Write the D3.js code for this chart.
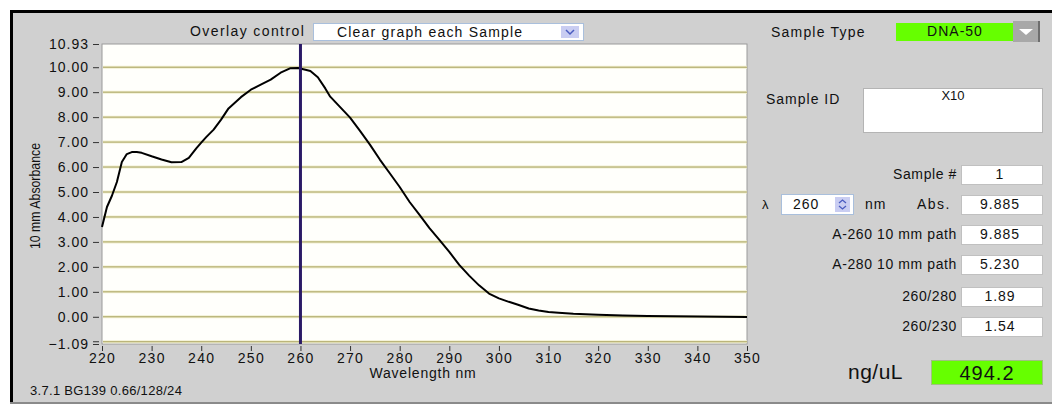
<!DOCTYPE html>
<html>
<head>
<meta charset="utf-8">
<script src="https://cdn.jsdelivr.net/npm/d3@7"></script>
<style>
  body { margin: 0; background: #fff; }
  svg text { font-family: "Liberation Sans", Arial, sans-serif; fill: #111; }
</style>
</head>
<body>
<div id="chart"></div>
<script>
// spectrum
const wavelength = [220, 221, 222, 223, 224, 225, 226, 227, 228, 230, 232, 234, 236, 237.5, 239, 240, 241, 242.5, 244, 245.5,
  248, 250, 252, 254, 256, 258, 259.5, 261, 262, 263.5, 265, 266, 268, 270, 272, 274, 276, 278, 280, 282,
  284, 286, 288, 290, 292, 294, 296, 298, 300, 302, 304, 306, 308, 310, 312, 315, 320, 325, 330, 335, 340, 345, 350]
const absorbance = [3.6, 4.4, 4.85, 5.4, 6.2, 6.52, 6.6, 6.6, 6.57, 6.43, 6.3, 6.19, 6.2, 6.37, 6.75, 6.98, 7.2, 7.5, 7.9, 8.35,
  8.8, 9.1, 9.3, 9.5, 9.78, 9.96, 9.97, 9.9, 9.85, 9.6, 9.15, 8.82, 8.4, 7.98, 7.45, 6.9, 6.3, 5.75, 5.2, 4.6,
  4.08, 3.55, 3.08, 2.6, 2.08, 1.65, 1.26, 0.93, 0.74, 0.6, 0.47, 0.33, 0.25, 0.19, 0.16, 0.12, 0.08, 0.05, 0.03, 0.02, 0.01, 0.0, -0.01]

const xTicks = [220, 230, 240, 250, 260, 270, 280, 290, 300, 310, 320, 330, 340, 350]
const yTicks = [10.93, 10, 9, 8, 7, 6, 5, 4, 3, 2, 1, 0, -1.09]
const gridLines = [10, 9, 8, 7, 6, 5, 4, 3, 2, 1, 0, -1]
const markerWavelength = 260

const fieldLabels = ['Sample #', 'Abs.', 'A-260 10 mm path', 'A-280 10 mm path', '260/280', '260/230']
const fieldValues = ['1', '9.885', '9.885', '5.230', '1.89', '1.54']
const fieldTops = [165, 195, 225, 255, 287, 317]

const width = 1052
const height = 406

const svg = d3.select('#chart')
    .append('svg')
    .attr('width', width)
    .attr('height', height)

// panel background + frame
svg.append('rect').attr('x', 10).attr('y', 10).attr('width', width - 10).attr('height', 393).attr('fill', '#d0d0d0')
svg.append('rect').attr('x', 10).attr('y', 10).attr('width', width - 10).attr('height', 3).attr('fill', '#000')
svg.append('rect').attr('x', 10).attr('y', 10).attr('width', 3).attr('height', 393).attr('fill', '#000')
svg.append('rect').attr('x', 10).attr('y', 402).attr('width', width - 10).attr('height', 2).attr('fill', '#8a8a8a')

const plot = { left: 102, right: 747, top: 44, bottom: 344 }

const x = d3.scaleLinear().domain([220, 350]).range([plot.left, plot.right])
const y = d3.scaleLinear().domain([-1.09, 10.93]).range([plot.bottom, plot.top])

svg.append('rect')
    .attr('x', plot.left).attr('y', plot.top)
    .attr('width', plot.right - plot.left).attr('height', plot.bottom - plot.top)
    .attr('fill', '#fffffb')
    .attr('stroke', '#9a9a9a')

const grid = svg.append('g')
grid.selectAll('line.halo')
    .data(gridLines)
    .join('line')
    .attr('class', 'halo')
    .attr('x1', plot.left + 1).attr('x2', plot.right)
    .attr('y1', d => y(d)).attr('y2', d => y(d))
    .attr('stroke', '#f1efcf').attr('stroke-width', 3)
grid.selectAll('line.main')
    .data(gridLines)
    .join('line')
    .attr('class', 'main')
    .attr('x1', plot.left + 1).attr('x2', plot.right)
    .attr('y1', d => y(d)).attr('y2', d => y(d))
    .attr('stroke', '#a8a25e').attr('stroke-width', 1)

// y axis
const yAxis = svg.append('g')
    .attr('transform', `translate(${plot.left - 3},0)`)
    .call(d3.axisLeft(y).tickValues(yTicks).tickSize(6).tickPadding(4).tickFormat(d3.format('.2f')))
yAxis.select('.domain').remove()
yAxis.selectAll('.tick line').attr('stroke', '#333')
yAxis.selectAll('.tick text')
    .attr('font-size', 14).attr('letter-spacing', 1).attr('fill', '#111')
    .style('font-family', '"Liberation Sans", Arial, sans-serif')
// minor tick at -1 gives the double dash
svg.append('line')
    .attr('x1', plot.left - 9).attr('x2', plot.left - 3)
    .attr('y1', y(-1)).attr('y2', y(-1)).attr('stroke', '#333')

// x axis
const xAxis = svg.append('g')
    .attr('transform', `translate(0,${plot.bottom + 2})`)
    .call(d3.axisBottom(x).tickValues(xTicks).tickSize(5).tickPadding(2))
xAxis.select('.domain').remove()
xAxis.selectAll('.tick line').attr('stroke', '#333')
xAxis.selectAll('.tick text')
    .attr('font-size', 14).attr('letter-spacing', 1.3).attr('fill', '#111')
    .style('font-family', '"Liberation Sans", Arial, sans-serif')

svg.append('text')
    .attr('x', 423).attr('y', 378)
    .attr('text-anchor', 'middle')
    .attr('font-size', 14).attr('letter-spacing', 0.8)
    .text('Wavelength nm')

svg.append('text')
    .attr('transform', 'translate(40,196) rotate(-90)')
    .attr('text-anchor', 'middle')
    .attr('font-size', 15)
    .attr('textLength', 106).attr('lengthAdjust', 'spacingAndGlyphs')
    .text('10 mm Absorbance')

// spectrum
const line = d3.line()
    .x((d, i) => x(wavelength[i]))
    .y(d => y(d))

svg.append('path')
    .datum(absorbance)
    .attr('d', line)
    .attr('fill', 'none')
    .attr('stroke', '#000')
    .attr('stroke-width', 2)
    .attr('stroke-linejoin', 'round')

// cursor
svg.append('line')
    .attr('x1', x(markerWavelength)).attr('x2', x(markerWavelength))
    .attr('y1', plot.top).attr('y2', plot.bottom)
    .attr('stroke', '#2a1a66').attr('stroke-width', 3)

// overlay control
svg.append('text').attr('x', 190).attr('y', 36).attr('font-size', 14).attr('letter-spacing', 1.4).text('Overlay control')
svg.append('rect').attr('x', 313.5).attr('y', 23.5).attr('width', 270).attr('height', 17)
    .attr('fill', '#fff').attr('stroke', '#a9bfdc')
svg.append('text').attr('x', 337).attr('y', 37).attr('font-size', 14).attr('letter-spacing', 1.2).text('Clear graph each Sample')
svg.append('rect').attr('x', 561).attr('y', 26).attr('width', 18).attr('height', 12).attr('fill', '#c9cdf2')
svg.append('path').attr('d', 'M566,30 L570,34 L574,30').attr('fill', 'none').attr('stroke', '#4a5cc0').attr('stroke-width', 1.5)

svg.append('text').attr('x', 30).attr('y', 395).attr('font-size', 13).attr('letter-spacing', 0.3).text('3.7.1 BG139 0.66/128/24')

// right panel
svg.append('text').attr('x', 771).attr('y', 37).attr('font-size', 14).attr('letter-spacing', 1.2).text('Sample Type')
svg.append('rect').attr('x', 896).attr('y', 23).attr('width', 117).attr('height', 18).attr('fill', '#66ff00')
svg.append('text').attr('x', 955).attr('y', 36).attr('font-size', 14).attr('letter-spacing', 1).attr('text-anchor', 'middle').text('DNA-50')
svg.append('rect').attr('x', 1013).attr('y', 21).attr('width', 27).attr('height', 21).attr('fill', '#a8a8a8')
svg.append('rect').attr('x', 1038).attr('y', 21).attr('width', 2).attr('height', 21).attr('fill', '#6e6e6e')
svg.append('path').attr('d', 'M1019,29 L1033,29 L1026,35 Z').attr('fill', '#fff')

svg.append('text').attr('x', 766).attr('y', 104).attr('font-size', 14).attr('letter-spacing', 1).text('Sample ID')
svg.append('rect').attr('x', 863.5).attr('y', 88.5).attr('width', 179).attr('height', 44).attr('fill', '#fff').attr('stroke', '#b4b4b4')
svg.append('text').attr('x', 953).attr('y', 100).attr('font-size', 13).attr('text-anchor', 'middle').attr('font-weight', 300).text('X10')

const fields = svg.append('g')
fields.selectAll('rect')
    .data(fieldValues)
    .join('rect')
    .attr('x', 961.5).attr('y', (d, i) => fieldTops[i] + 0.5)
    .attr('width', 81).attr('height', 19)
    .attr('fill', '#fff').attr('stroke', '#c0c0c0')
fields.selectAll('text.val')
    .data(fieldValues)
    .join('text')
    .attr('class', 'val')
    .attr('x', 1000).attr('y', (d, i) => fieldTops[i] + 14)
    .attr('text-anchor', 'middle').attr('font-size', 14).attr('letter-spacing', 1)
    .text(d => d)
fields.selectAll('text.lab')
    .data(fieldLabels)
    .join('text')
    .attr('class', 'lab')
    .attr('x', (d, i) => i == 1 ? 951 : 957).attr('y', (d, i) => fieldTops[i] + 14)
    .attr('text-anchor', 'end').attr('font-size', 14).attr('letter-spacing', (d, i) => i == 1 ? 1.5 : 0.6)
    .text(d => d)

// lambda spin box
svg.append('text').attr('x', 762).attr('y', 209).attr('font-size', 13).text('λ')
svg.append('rect').attr('x', 781.5).attr('y', 194.5).attr('width', 72).attr('height', 20).attr('fill', '#fff').attr('stroke', '#a9bfdc')
svg.append('text').attr('x', 793).attr('y', 209).attr('font-size', 14).attr('letter-spacing', 1).text(markerWavelength)
svg.append('rect').attr('x', 835).attr('y', 197).attr('width', 15).attr('height', 15).attr('fill', '#c9cdf2')
svg.append('path').attr('d', 'M839,203 L842.5,200 L846,203 M839,206 L842.5,209 L846,206').attr('fill', 'none').attr('stroke', '#4a5cc0').attr('stroke-width', 1.3)
svg.append('text').attr('x', 865).attr('y', 209).attr('font-size', 14).attr('letter-spacing', 1).text('nm')

// concentration
svg.append('text').attr('x', 848).attr('y', 379).attr('font-size', 21).attr('letter-spacing', 0.5).text('ng/uL')
svg.append('rect').attr('x', 931.5).attr('y', 360.5).attr('width', 111).attr('height', 24).attr('fill', '#66ff00').attr('stroke', '#a0c080')
svg.append('text').attr('x', 987).attr('y', 380).attr('font-size', 20).attr('letter-spacing', 1).attr('text-anchor', 'middle').text('494.2')
</script>
</body>
</html>
